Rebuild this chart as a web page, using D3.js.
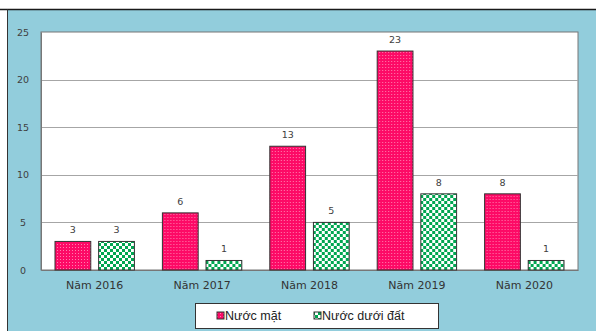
<!DOCTYPE html>
<html><head><meta charset="utf-8">
<script src="https://cdn.jsdelivr.net/npm/d3@7"></script>
<style>body{margin:0;background:#fff}svg{display:block}</style>
</head><body>
<script>
const categories = ["Năm 2016","Năm 2017","Năm 2018","Năm 2019","Năm 2020"];
const seriesNames = ["Nước mặt","Nước dưới đất"];
const nuocMat = [3,6,13,23,8];
const nuocDuoiDat = [3,1,5,8,1];
const yTicks = [0,5,10,15,20,25];

const W=596,H=331;
const svg=d3.select("body").append("svg").attr("width",W).attr("height",H);
const defs=svg.append("defs");
const p1=defs.append("pattern").attr("id","pinkDots").attr("patternUnits","userSpaceOnUse").attr("width",3).attr("height",3);
p1.append("rect").attr("width",3).attr("height",3).attr("fill","#fd0a66");
p1.append("rect").attr("x",1).attr("y",1).attr("width",1).attr("height",1).attr("fill","#ff7fae");
const p2=defs.append("pattern").attr("id","greenCheck").attr("patternUnits","userSpaceOnUse").attr("width",6).attr("height",6);
p2.append("rect").attr("width",6).attr("height",6).attr("fill","#ffffff");
p2.append("rect").attr("width",3).attr("height",3).attr("fill","#00a651");
p2.append("rect").attr("x",3).attr("y",3).attr("width",3).attr("height",3).attr("fill","#00a651");

// background
svg.append("rect").attr("x",7).attr("y",9.5).attr("width",W-7).attr("height",H-9.5).attr("fill","#92cddc");
svg.append("line").attr("x1",0).attr("x2",W).attr("y1",9.5).attr("y2",9.5).attr("stroke","#1a1a1a").attr("stroke-width",1.5);
svg.append("line").attr("x1",7.5).attr("x2",7.5).attr("y1",9.5).attr("y2",H).attr("stroke","#333").attr("stroke-width",1);

const L=41,R=578,T=32,B=270;
svg.append("rect").attr("x",L).attr("y",T).attr("width",R-L).attr("height",B-T).attr("fill","#fff").attr("stroke","#777");

const y=d3.scaleLinear().domain([0,25]).range([B,T]);
const x0=d3.scaleBand().domain(categories).range([L,R]).padding(0);
const x1=d3.scaleBand().domain(seriesNames).range([14,x0.bandwidth()-14]).paddingInner(0.18).paddingOuter(0);

// gridlines
svg.append("g").selectAll("line").data(yTicks.filter(d=>d>0&&d<25)).join("line")
 .attr("x1",L).attr("x2",R).attr("y1",d=>Math.round(y(d))+0.5).attr("y2",d=>Math.round(y(d))+0.5)
 .attr("stroke","#a6a6a6");

// y axis
const ya=svg.append("g").attr("transform",`translate(${L},0)`).call(d3.axisLeft(y).tickValues(yTicks).tickSize(0).tickPadding(12));
ya.select(".domain").attr("stroke","#777");
ya.selectAll("text").attr("font-family","DejaVu Sans, Verdana, sans-serif").attr("font-size",9.5).attr("fill","#404040").attr("text-anchor","middle").attr("dx",-6);

// x axis
const xa=svg.append("g").attr("transform",`translate(0,${B})`).call(d3.axisBottom(x0).tickSize(0).tickPadding(11));
xa.select(".domain").attr("stroke","#777");
xa.selectAll("text").attr("font-family","DejaVu Sans, Verdana, sans-serif").attr("font-size",11).attr("fill","#333");

const data=categories.map((c,i)=>({c,vals:[{s:seriesNames[0],v:nuocMat[i]},{s:seriesNames[1],v:nuocDuoiDat[i]}]}));
const fills={"Nước mặt":"url(#pinkDots)","Nước dưới đất":"url(#greenCheck)"};
const g=svg.append("g").selectAll("g").data(data).join("g").attr("transform",d=>`translate(${x0(d.c)},0)`);
g.selectAll("rect").data(d=>d.vals).join("rect")
 .attr("x",d=>x1(d.s)).attr("width",x1.bandwidth())
 .attr("y",d=>y(d.v)).attr("height",d=>B-y(d.v))
 .attr("fill",d=>fills[d.s]).attr("stroke","#333").attr("stroke-width",1);
g.selectAll("text").data(d=>d.vals).join("text")
 .attr("x",d=>x1(d.s)+x1.bandwidth()/2).attr("y",d=>y(d.v)-8)
 .attr("text-anchor","middle").attr("font-family","DejaVu Sans, Verdana, sans-serif").attr("font-size",9.5)
 .attr("fill","#404040").text(d=>d.v);

// legend
const lg=svg.append("g");
lg.append("rect").attr("x",195.5).attr("y",303.5).attr("width",243).attr("height",25).attr("fill","#fff").attr("stroke","#333");
const items=[{s:seriesNames[0],x:217},{s:seriesNames[1],x:314}];
items.forEach(it=>{
 lg.append("rect").attr("x",it.x).attr("y",312).attr("width",7).attr("height",7).attr("fill",fills[it.s]).attr("stroke","#333");
 lg.append("text").attr("x",it.x+8).attr("y",320).attr("font-family","Liberation Sans, Arial, sans-serif").attr("font-size",12.5).attr("fill","#222").text(it.s);
});
</script>
</body></html>
